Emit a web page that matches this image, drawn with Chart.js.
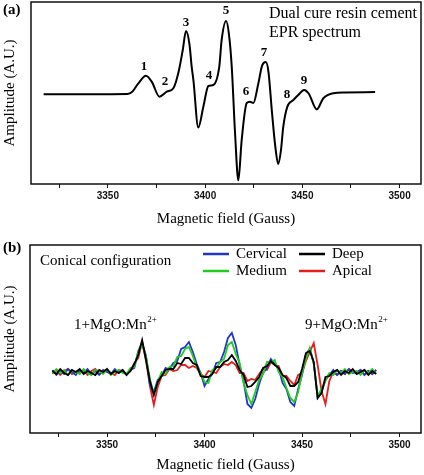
<!DOCTYPE html>
<html>
<head>
<meta charset="utf-8">
<title>EPR spectrum</title>
<script src="https://cdn.jsdelivr.net/npm/chart.js@4.4.1/dist/chart.umd.min.js"></script>
<style>
    body { margin: 0; background: #fff; }
    .panel { position: absolute; left: 0; width: 424px; }
    #panel-a { top: 0; height: 237px; }
    #panel-b { top: 237px; height: 238px; }
</style>
</head>
<body>
<div class="panel" id="panel-a"><canvas id="chartA"></canvas></div>
<div class="panel" id="panel-b"><canvas id="chartB"></canvas></div>
<script>
// Panel (a): dual cure resin cement, EPR spectrum
const fieldA = [3317, 3340, 3360, 3362.4, 3365.5, 3369.6, 3372.7, 3376.5, 3380.3, 3383.7, 3386.2, 3388.5,
    3390.2, 3392.0, 3393.1, 3394.0, 3396.5, 3399.1, 3401.7, 3404.2, 3407.3, 3408.5, 3410.8, 3412.3, 3413.7,
    3415.4, 3417.1, 3418.8, 3421.4, 3423.1, 3424.8, 3427.4, 3429.3, 3431.2, 3432.6, 3434.3, 3436.0, 3437.6,
    3439.0, 3440.2, 3442.3, 3445.4, 3447.9, 3450.9, 3453.4, 3457.4, 3460.8, 3465.9, 3472, 3487.4];
const ampA = [-0.014, -0.013, -0.01, 0.01, 0.10, 0.19, 0.12, -0.04, 0.014, 0.052, 0.216, 0.47,
    0.68, 0.53, 0.29, 0.14, -0.38, -0.15, 0.077, 0.088, 0.29, 0.58, 0.79, 0.64, 0.29,
    -0.44, -0.96, -0.52, -0.11, -0.096, -0.11, 0.107, 0.30, 0.34, 0.23, -0.19, -0.57, -0.78,
    -0.63, -0.37, -0.15, -0.077, -0.022, 0.033, -0.011, -0.18, -0.058, -0.003, 0.005, 0.011];

// numbered lines of panel (a), anchored in data units
const peakNames = ['1', '2', '3', '4', '5', '6', '7', '8', '9'];
const peakField = [3368.6, 3379.4, 3390.2, 3402.0, 3410.8, 3421.0, 3430.3, 3442.1, 3450.9];
const peakAmp = [0.29, 0.13, 0.77, 0.19, 0.91, 0.01, 0.44, -0.02, 0.14];

// Panel (b): conical configuration, four depths
const fieldB = [3322, 3324, 3326, 3328, 3330, 3332, 3334, 3336, 3338, 3340, 3342, 3344, 3346, 3348,
    3350, 3352, 3354, 3356, 3358, 3360, 3362, 3364, 3366, 3368, 3370, 3372, 3374, 3376, 3378, 3380,
    3382, 3384, 3386, 3388, 3390, 3392, 3394, 3396, 3398, 3400, 3402, 3404, 3406, 3408, 3410, 3412,
    3414, 3416, 3418, 3420, 3422, 3424, 3426, 3428, 3430, 3432, 3434, 3436, 3438, 3440, 3442, 3444,
    3446, 3448, 3450, 3452, 3454, 3456, 3458, 3460, 3462, 3464, 3466, 3468, 3470, 3472, 3474, 3476,
    3478, 3480, 3482, 3484, 3486, 3488];
const cervical = [2, -3, 1, -2, 3, 0, -3, 2, -1, 3, -2, 1, -3, 2, 0, -2, 3, -1, 2, -3,
    2, 4, 21, 29, 16, -13, -20, -8, -4, 4, 3, 9, 11, 23, 25, 30, 20, 8, -1, -14,
    -7, -2, 9, 10, 20, 34, 39, 27, 7, -9, -32, -36, -27, -12, -1, 4, 13, 8, 4, -11,
    -17, -30, -34, -17, -3, 18, 23, 9, -26, -20, -8, -3, 2, -3, 1, -2, 3, -1, 0, 2,
    -3, 1, -2, 2];
const medium = [-2, 3, -1, 2, -3, 1, 0, -2, 3, -1, -3, 2, 1, -2, 3, -3, 0, 2, -1, -2,
    4, 5, 20, 28, 15, -7, -22, -10, 0, -2, 5, 6, 15, 16, 23, 25, 16, 5, -1, -10,
    -11, 2, 4, 10, 13, 27, 30, 18, 9, -11, -23, -32, -20, -8, -2, 10, 10, 12, 0, -5,
    -16, -26, -30, -20, -1, 13, 24, 8, -24, -17, -9, -1, -3, 2, -1, 3, -2, 0, 1, -3,
    2, -1, 3, -2];
const deep = [1, -2, 3, -1, -3, 2, 0, 3, -2, 1, -1, -3, 2, 0, 3, -2, 1, -1, 2, -3,
    1, 8, 17, 32, 12, -9, -23, -10, -4, 2, 3, 3, 9, 8, 14, 14, 9, 7, -4, -5,
    -5, -2, 5, 5, 10, 12, 17, 11, 2, -3, -15, -14, -10, -5, 4, 6, 11, 7, 4, -3,
    -6, -14, -14, -10, 3, 19, 21, 10, -26, -21, -5, -4, 0, 2, -3, 1, -1, 3, -2, 0,
    2, -3, 1, -2];
const apical = [-1, 2, -3, 1, 3, -2, 0, -1, 2, -3, 1, 3, -2, 0, 2, -1, -3, 2, 1, -2,
    1, 9, 14, 30, 11, -14, -33, -15, -4, -3, 3, 1, 2, 7, 7, 4, 6, 4, -2, -5,
    1, 0, -1, 5, 8, 7, 10, 7, -1, -1, -9, -7, -8, -2, 3, 2, 10, 7, 6, -4,
    -4, -9, -13, -3, -1, 11, 20, 29, 7, -19, -32, -9, 0, -3, 1, -2, 3, 0, -1, 2,
    -3, 1, -2, 2];

// axis ticks, shared by both panels (minor ones carry no label)
const fieldTicks = [3325, 3350, 3375, 3400, 3425, 3450, 3475, 3500];
const fieldTickLabels = ['', '3350', '', '3400', '', '3450', '', '3500'];

const SERIF = '"Liberation Serif", "Times New Roman", serif';
const SANS = '"Liberation Sans", Arial, sans-serif';

Chart.defaults.font.family = SERIF;
Chart.defaults.color = '#000';

function points(xs, ys) {
    return xs.map((x, i) => ({ x: x, y: ys[i] }));
}

// frame around the plot area, the figure has a closed box
const frameBox = {
    id: 'frameBox',
    afterDraw(chart) {
        const { ctx, chartArea: a } = chart;
        ctx.save();
        ctx.strokeStyle = '#111';
        ctx.lineWidth = 1.5;
        ctx.strokeRect(a.left, a.top, a.right - a.left, a.bottom - a.top);
        ctx.restore();
    }
};

function drawSup(ctx, base, sup, x, y) {
    ctx.font = '15px ' + SERIF;
    ctx.fillText(base, x, y);
    const w = ctx.measureText(base).width;
    ctx.font = '9px ' + SERIF;
    ctx.fillText(sup, x + w + 0.5, y - 5);
}

function xScale(height, titlePad) {
    return {
        type: 'linear',
        min: 3310.5,
        max: 3511,
        afterFit: (scale) => { scale.height = height; },
        afterBuildTicks: (scale) => {
            scale.ticks = fieldTicks.map((v) => ({ value: v }));
        },
        border: { display: false },
        grid: { display: true, drawOnChartArea: false, drawTicks: true, tickLength: 4, color: '#111' },
        ticks: {
            autoSkip: false,
            maxRotation: 0,
            padding: 2,
            color: '#111',
            font: { family: SANS, size: 10, weight: 'bold' },
            callback: (v, i) => fieldTickLabels[i]
        },
        title: {
            display: true,
            text: 'Magnetic field (Gauss)',
            font: { family: SERIF, size: 15 },
            padding: { top: 0, bottom: titlePad }
        }
    };
}

function yScale(width, min, max) {
    return {
        min: min,
        max: max,
        afterFit: (scale) => { scale.width = width; },
        border: { display: false },
        grid: { display: false },
        ticks: { display: false },
        title: {
            display: true,
            text: 'Amplitude (A.U.)',
            font: { family: SERIF, size: 15 },
            padding: { top: 1, bottom: 0 }
        }
    };
}

// ---- panel (a) ----
const labelsA = {
    id: 'labelsA',
    afterDraw(chart) {
        const { ctx, scales } = chart;
        ctx.save();
        ctx.fillStyle = '#000';
        ctx.textBaseline = 'middle';
        ctx.textAlign = 'center';
        ctx.font = 'bold 13px ' + SERIF;
        peakNames.forEach((name, i) => {
            ctx.fillText(name, scales.x.getPixelForValue(peakField[i]), scales.y.getPixelForValue(peakAmp[i]));
        });
        ctx.textAlign = 'left';
        ctx.font = 'bold 15px ' + SERIF;
        ctx.fillText('(a)', 3, 10);
        ctx.font = '16px ' + SERIF;
        ctx.fillText('Dual cure resin cement', 269, 14);
        ctx.fillText('EPR spectrum', 269, 33);
        ctx.restore();
    }
};

new Chart(document.getElementById('chartA'), {
    type: 'line',
    data: {
        datasets: [{
            label: 'Dual cure resin cement',
            data: points(fieldA, ampA),
            borderColor: '#000',
            borderWidth: 2,
            pointRadius: 0,
            cubicInterpolationMode: 'monotone'
        }]
    },
    options: {
        responsive: true,
        maintainAspectRatio: false,
        animation: false,
        devicePixelRatio: 1,
        layout: { padding: { top: 2, right: 3, left: 0, bottom: 0 } },
        plugins: { legend: { display: false }, tooltip: { enabled: false } },
        scales: { x: xScale(53, 9), y: yScale(31, -1, 1) }
    },
    plugins: [frameBox, labelsA]
});

// ---- panel (b) ----
const seriesB = [
    { label: 'Deep', values: deep, color: '#000000' },
    { label: 'Medium', values: medium, color: '#1fcc1f' },
    { label: 'Cervical', values: cervical, color: '#2436c8' },
    { label: 'Apical', values: apical, color: '#e41e1e' }
];

const legendB = [
    { label: 'Cervical', color: '#2436c8', x: 203, y: 17 },
    { label: 'Medium', color: '#1fcc1f', x: 203, y: 34 },
    { label: 'Deep', color: '#000000', x: 299, y: 17 },
    { label: 'Apical', color: '#e41e1e', x: 299, y: 34 }
];

const labelsB = {
    id: 'labelsB',
    afterDraw(chart) {
        const { ctx } = chart;
        ctx.save();
        ctx.fillStyle = '#000';
        ctx.textBaseline = 'middle';
        ctx.textAlign = 'left';
        ctx.font = 'bold 15px ' + SERIF;
        ctx.fillText('(b)', 3, 11);
        ctx.font = '15px ' + SERIF;
        ctx.fillText('Conical configuration', 40, 24);
        legendB.forEach((item) => {
            ctx.strokeStyle = item.color;
            ctx.lineWidth = 2.5;
            ctx.beginPath();
            ctx.moveTo(item.x, item.y);
            ctx.lineTo(item.x + 26, item.y);
            ctx.stroke();
            ctx.font = '15px ' + SERIF;
            ctx.fillText(item.label, item.x + 33, item.y);
        });
        drawSup(ctx, '1+MgO:Mn', '2+', 74, 88);
        drawSup(ctx, '9+MgO:Mn', '2+', 305, 88);
        ctx.restore();
    }
};

new Chart(document.getElementById('chartB'), {
    type: 'line',
    data: {
        datasets: seriesB.map((s) => ({
            label: s.label,
            data: points(fieldB, s.values),
            borderColor: s.color,
            borderWidth: 1.8,
            pointRadius: 0,
            tension: 0
        }))
    },
    options: {
        responsive: true,
        maintainAspectRatio: false,
        animation: false,
        devicePixelRatio: 1,
        layout: { padding: { top: 8, right: 3, left: 0, bottom: 0 } },
        plugins: { legend: { display: false }, tooltip: { enabled: false } },
        scales: { x: xScale(42, 1), y: yScale(30, -61, 127) }
    },
    plugins: [frameBox, labelsB]
});
</script>
</body>
</html>
